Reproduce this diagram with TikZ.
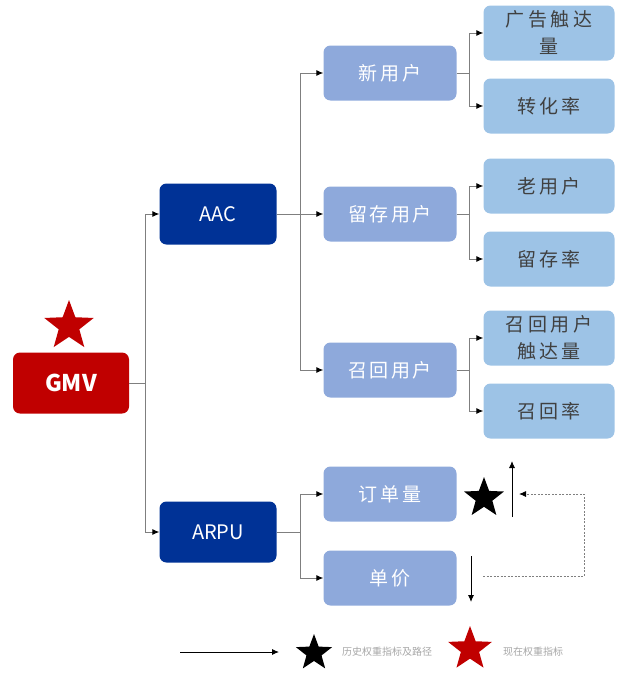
\documentclass[tikz,border=0pt]{standalone}
\usepackage{fontspec}
\setmainfont{Noto Sans CJK SC}
\usetikzlibrary{arrows.meta,shapes.geometric}
\definecolor{gmvred}{HTML}{C00000}
\definecolor{navy}{HTML}{003296}
\definecolor{midblue}{HTML}{8EA9DB}
\definecolor{lightblue}{HTML}{9DC3E6}
\definecolor{linegray}{HTML}{7F7F7F}
\definecolor{txtgray}{HTML}{404040}
\definecolor{lggray}{HTML}{A6A6A6}
\tikzset{
  x=1pt, y=-1pt,
  box/.style={rectangle, rounded corners=7pt, inner sep=0pt, align=center},
  rootbox/.style={box, fill=gmvred, text=white, minimum width=116pt, minimum height=61pt, font=\fontsize{23}{25}\selectfont\bfseries},
  lvlone/.style={box, fill=navy, text=white, minimum width=117pt, minimum height=61pt, font=\fontsize{20}{22}\selectfont},
  lvltwo/.style={box, fill=midblue, text=white, minimum width=133pt, minimum height=55pt, font=\fontsize{19}{21}\selectfont\addfontfeature{LetterSpace=14}},
  leaf/.style={box, fill=lightblue, text=txtgray, minimum width=131pt, minimum height=55pt, font=\fontsize{19}{27}\selectfont\addfontfeature{LetterSpace=18}},
  conn/.style={draw=linegray, line width=0.9pt},
  arr/.style={conn, -{Latex[length=7pt,width=6pt,black]}},
  histarr/.style={draw=black, line width=0.9pt, -{Latex[length=7pt,width=6pt]}},
  dashedarr/.style={draw=linegray, line width=0.9pt, dash pattern=on 2pt off 1.5pt, -{Latex[length=7pt,width=6pt,black]}},
  starshape/.style={star, star points=5, star point ratio=2.4, inner sep=0pt, draw=none},
  legendtxt/.style={text=lggray, font=\fontsize{10}{12}\selectfont, anchor=west, inner sep=0pt}
}
\begin{document}
\begin{tikzpicture}
\useasboundingbox (0,0) rectangle (621,675);

% root and first level
\node[rootbox] (gmv) at (71,383) {GMV};
\node[starshape, fill=gmvred, minimum size=52pt] (gmvstar) at (69,326) {};
\node[lvlone] (aac) at (218,214) {AAC};
\node[lvlone] (arpu) at (218,532) {ARPU};

% second level
\node[lvltwo] (newu) at (390,73) {新用户};
\node[lvltwo] (retu) at (390,214) {留存用户};
\node[lvltwo] (recu) at (390,370) {召回用户};
\node[lvltwo] (orders) at (390,494) {订单量};
\node[lvltwo] (price) at (390,578) {单价};

% leaves
\node[leaf] (adreach) at (549,33) {广告触达\\量};
\node[leaf] (conv) at (549,106) {转化率};
\node[leaf] (oldu) at (549,186) {老用户};
\node[leaf] (retr) at (549,259) {留存率};
\node[leaf] (recreach) at (549,338) {召回用户\\触达量};
\node[leaf] (recr) at (549,411) {召回率};

% tree connectors
\coordinate (j0) at (145,383);
\draw[conn] (gmv.east) -- (j0);
\draw[arr] (j0) |- (aac.west);
\draw[arr] (j0) |- (arpu.west);

\coordinate (j1) at (300,214);
\draw[conn] (aac.east) -- (j1);
\draw[arr] (j1) |- (newu.west);
\draw[arr] (j1) -- (retu.west);
\draw[arr] (j1) |- (recu.west);

\coordinate (j2) at (300,532);
\draw[conn] (arpu.east) -- (j2);
\draw[arr] (j2) |- (orders.west);
\draw[arr] (j2) |- (price.west);

\coordinate (j3) at (469,73);
\draw[conn] (newu.east) -- (j3);
\draw[arr] (j3) |- (adreach.west);
\draw[arr] (j3) |- (conv.west);

\coordinate (j4) at (469,214);
\draw[conn] (retu.east) -- (j4);
\draw[arr] (j4) |- (oldu.west);
\draw[arr] (j4) |- (retr.west);

\coordinate (j5) at (469,370);
\draw[conn] (recu.east) -- (j5);
\draw[arr] (j5) |- (recreach.west);
\draw[arr] (j5) |- (recr.west);

% historical weight path
\node[starshape, fill=black, minimum size=42pt] (histstar) at (484,498) {};
\coordinate (upfrom) at (512,517);
\coordinate (upto) at (512,461);
\draw[histarr] (upfrom) -- (upto);
\coordinate (downfrom) at (471,556);
\coordinate (downto) at (471,602);
\draw[histarr] (downfrom) -- (downto);
\coordinate (dstart) at (483,576);
\coordinate (dcorner) at (584,576);
\coordinate (dend) at (519,494);
\draw[dashedarr] (dstart) -- (dcorner) |- (dend);

% legend
\coordinate (lgfrom) at (180,652);
\coordinate (lgto) at (279,652);
\draw[histarr] (lgfrom) -- (lgto);
\node[starshape, fill=black, minimum size=38pt] (lgstar1) at (314,653) {};
\node[legendtxt] (lgtxt1) at (342,652) {历史权重指标及路径};
\node[starshape, fill=gmvred, minimum size=46pt] (lgstar2) at (470,649) {};
\node[legendtxt] (lgtxt2) at (503,652) {现在权重指标};
\end{tikzpicture}
\end{document}
